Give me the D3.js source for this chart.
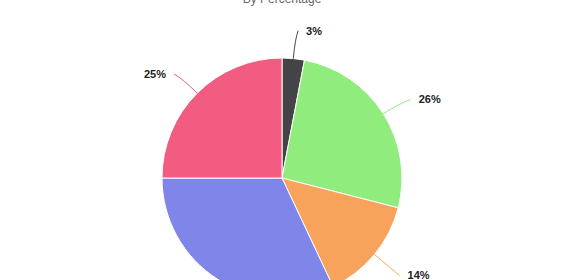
<!DOCTYPE html>
<html>
<head>
<meta charset="utf-8">
<script src="https://cdn.jsdelivr.net/npm/d3@7"></script>
<style>
  body { margin: 0; background: #fff; }
  svg { display: block; font-family: "Liberation Sans", Arial, sans-serif; }
</style>
</head>
<body>
<div id="container"></div>
<script>
const WIDTH = 564;
const HEIGHT = 280;
const CENTER = { X: 282, Y: 178 };
const RADIUS = 120;
const LABEL_DISTANCE = 30;

const categories = ['A', 'B', 'C', 'D', 'E'];
const values = [3, 26, 14, 32, 25];
const labels = ['3%', '26%', '14%', '', '25%'];
const colors = ['#434348', '#90ed7d', '#f7a35c', '#8085e9', '#f15c80'];
const subtitle = 'By Percentage';

const svg = d3.select('#container')
              .append('svg')
                .attr('width', WIDTH)
                .attr('height', HEIGHT);

// subtitle sits mostly above the visible area, as in the reference
svg.append('text')
     .attr('x', CENTER.X)
     .attr('y', 3)
     .attr('text-anchor', 'middle')
     .attr('font-size', 12)
     .attr('fill', '#666')
     .text(subtitle);

const data = categories.map((c, i) => ({ name: c, value: values[i], label: labels[i], color: colors[i] }));

const pie = d3.pie().sort(null).value(d => d.value);
const arc = d3.arc().innerRadius(0).outerRadius(RADIUS);
const arcs = pie(data);

const g = svg.append('g')
             .attr('transform', `translate(${CENTER.X}, ${CENTER.Y})`);

g.selectAll('path.slice')
  .data(arcs)
  .enter()
  .append('path')
    .attr('class', 'slice')
    .attr('d', arc)
    .attr('fill', d => d.data.color)
    .attr('stroke', '#fff')
    .attr('stroke-width', 1);

// point on circle at given angle (0 = top, clockwise)
const polar = (a, r) => [r * Math.sin(a), -r * Math.cos(a)];

const labelled = arcs.filter(d => d.data.label);

labelled.forEach(d => {
    const mid = (d.startAngle + d.endAngle) / 2;
    const side = Math.sin(mid) >= 0 ? 1 : -1;
    const edge = polar(mid, RADIUS);
    const bend = polar(mid, RADIUS + 20);
    const outer = polar(mid, RADIUS + LABEL_DISTANCE);
    const lx = outer[0] + side * 2;
    const ly = outer[1] + 2;

    g.append('path')
       .attr('d', `M${lx},${ly} Q${bend[0]},${bend[1]} ${edge[0]},${edge[1]}`)
       .attr('fill', 'none')
       .attr('stroke', d.data.color)
       .attr('stroke-width', 1);

    g.append('text')
       .attr('x', lx + side * 8)
       .attr('y', ly)
       .attr('dy', '0.35em')
       .attr('text-anchor', side > 0 ? 'start' : 'end')
       .attr('font-size', 11)
       .attr('font-weight', 'bold')
       .attr('fill', '#222')
       .attr('stroke', '#fff')
       .attr('stroke-width', 2)
       .attr('paint-order', 'stroke')
       .text(d.data.label);
});
</script>
</body>
</html>
